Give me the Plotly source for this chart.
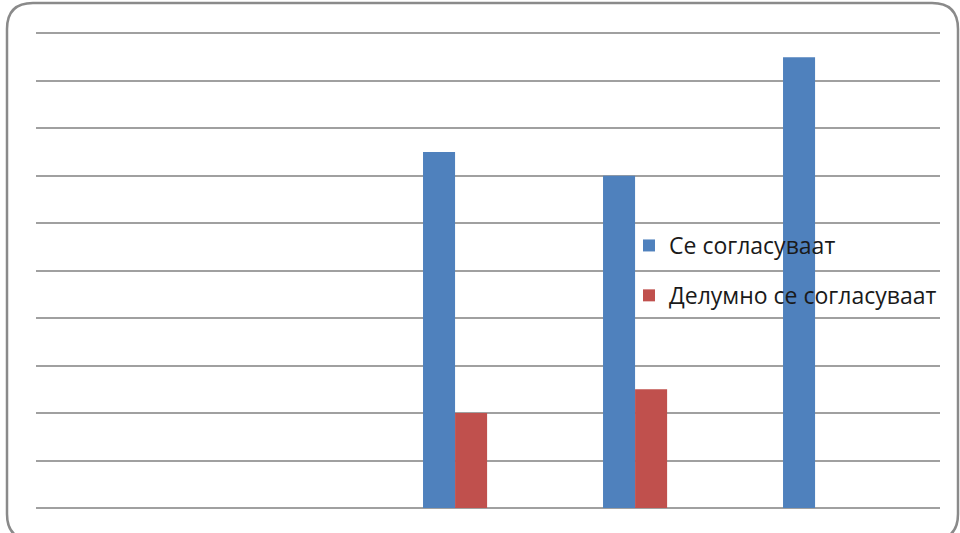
import plotly.graph_objects as go

categories = [1, 2, 3, 4, 5]
series_names = ["Се согласуваат", "Делумно се согласуваат"]
agree = [None, None, 7.5, 7.0, 9.5]
partly = [None, None, 2.0, 2.5, None]

W, H = 960, 533
L, R, T, B = 36, 20, 32, 25
pw, ph = W - L - R, H - T - B

def px(x):
    return (x - L) / pw

def py(y):
    return (H - B - y) / ph

fig = go.Figure()
fig.add_trace(go.Bar(x=categories, y=agree, name=series_names[0],
                     marker=dict(color="#4f81bd", line=dict(width=0)),
                     legendgroup="a"))
fig.add_trace(go.Bar(x=categories, y=partly, name=series_names[1],
                     marker=dict(color="#c0504d", line=dict(width=0)),
                     legendgroup="b"))

# rounded border
x0, x1, y0, y1, r = 7, 958, 3, 540, 26
path = (f"M {px(x0+r)},{py(y0)} L {px(x1-r)},{py(y0)} "
        f"Q {px(x1)},{py(y0)} {px(x1)},{py(y0+r)} "
        f"L {px(x1)},{py(y1-r)} Q {px(x1)},{py(y1)} {px(x1-r)},{py(y1)} "
        f"L {px(x0+r)},{py(y1)} Q {px(x0)},{py(y1)} {px(x0)},{py(y1-r)} "
        f"L {px(x0)},{py(y0+r)} Q {px(x0)},{py(y0)} {px(x0+r)},{py(y0)} Z")
fig.add_shape(type="path", path=path, xref="paper", yref="paper",
              line=dict(color="#8a8a8a", width=2.5), layer="above")

fig.update_layout(
    width=W, height=H,
    margin=dict(l=L, r=R, t=T, b=B),
    paper_bgcolor="white", plot_bgcolor="white",
    barmode="group", bargap=0.644, bargroupgap=0,
    font=dict(family="Open Sans, Liberation Sans, Arial, sans-serif", size=23, color="#1a1a1a"),
    xaxis=dict(range=[-0.328 + 1, 4.694 + 1], showticklabels=False, showgrid=False,
               zeroline=False, showline=False, ticks=""),
    yaxis=dict(range=[0, 10.03], dtick=1, showticklabels=False, showgrid=True,
               gridcolor="#a0a0a0", gridwidth=2, zeroline=True,
               zerolinecolor="#a0a0a0", zerolinewidth=2, ticks=""),
    legend=dict(x=px(629), y=py(224), xanchor="left", yanchor="top",
                bgcolor="rgba(0,0,0,0)", tracegroupgap=17,
                font=dict(size=23)),
    showlegend=True,
)

fig.write_html("out.html", config={"displayModeBar": False},
               post_script="document.body.style.margin='0px';")
